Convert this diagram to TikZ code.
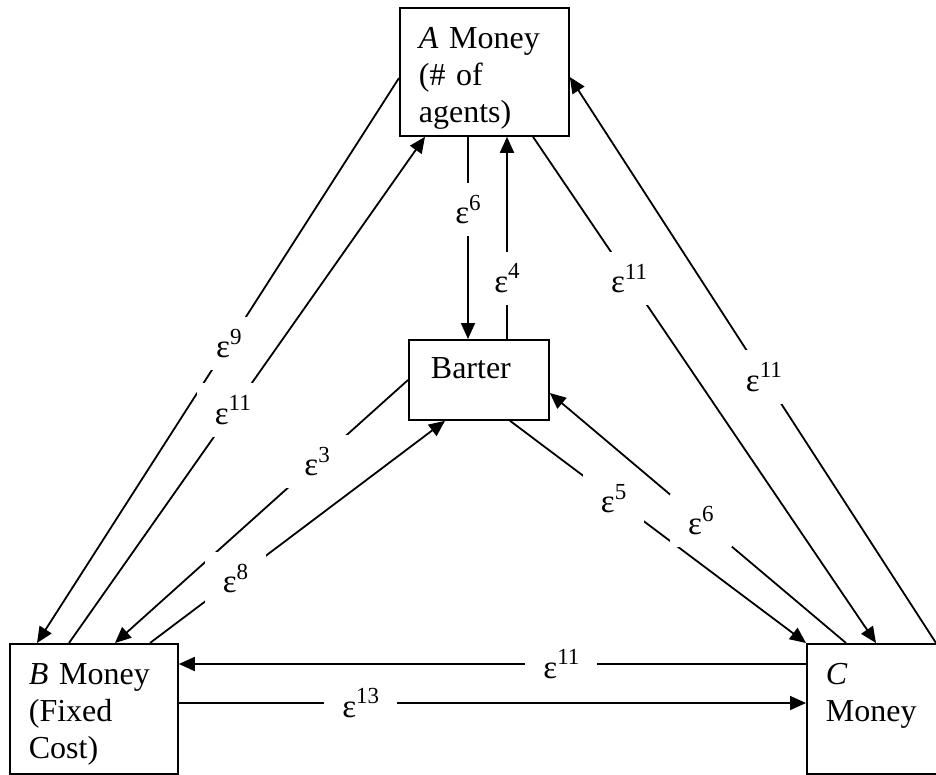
\documentclass[tikz,border=0pt]{standalone}
\usepackage{fontspec}
\setmainfont{Liberation Serif}
\usetikzlibrary{arrows.meta,calc}
\newcommand{\epsl}[1]{ε\raisebox{.42em}{\fontsize{11.5}{11.5}\selectfont#1}}
\begin{document}
\begin{tikzpicture}[x=0.5pt,y=-0.5pt,
    box/.style={draw,line width=0.9pt,anchor=north west,align=left,inner xsep=9.5pt,
      inner ysep=0pt,text height=20.5pt,font=\fontsize{16}{18.5}\selectfont},
    arr/.style={line width=0.9pt,-{Triangle[length=8pt,width=7pt]}},
    lbl/.style={fill=white,inner xsep=9pt,inner ysep=6pt,font=\fontsize{16.5}{18}\selectfont}]
  \clip (0,0) rectangle (936,775);
  % boxes
  \node[box,text width=65.5pt,text depth=43.5pt] (A) at (399,7) {\textit{A} Money\\(\# of\\agents)};
  \node[box,inner xsep=11pt,text width=48pt,text height=19.5pt,text depth=20.5pt] (bar) at (408,339) {Barter};
  \node[box,text width=65pt,text depth=44.5pt] (B) at (9,643) {\textit{B} Money\\(Fixed\\Cost)};
  \node[box,text width=61pt,text depth=44.5pt] (C) at (806,643) {\textit{C}\\Money};
  % A and B
  \draw[arr] ($(A.north west)+(0,71)$) -- node[lbl,pos=.47] {\epsl{9}} ($(B.north west)+(28,0)$);
  \draw[arr] ($(B.north west)+(60,0)$) -- node[lbl,pos=.46] {\epsl{11}} ($(A.south west)+(26,0)$);
  % A and Barter
  \draw[arr] ($(A.south west)+(69,0)$) -- node[lbl,pos=.36] {\epsl{6}} ($(bar.north west)+(60,0)$);
  \draw[arr] ($(bar.north west)+(99,0)$) -- node[lbl,pos=.30] {\epsl{4}} ($(A.south west)+(108,0)$);
  % A and C
  \draw[arr] ($(A.south west)+(134,0)$) -- node[lbl,pos=.28] {\epsl{11}} ($(C.north west)+(70,0)$);
  \draw[arr] ($(C.north west)+(130,0)$) -- node[lbl,pos=.47] {\epsl{11}} ($(A.north east)+(0,70)$);
  % Barter and B
  \draw[arr] ($(bar.north west)+(0,41)$) -- node[lbl,pos=.31] {\epsl{3}} ($(B.north west)+(106,0)$);
  \draw[arr] ($(B.north west)+(141,0)$) -- node[lbl,pos=.29] {\epsl{8}} ($(bar.south west)+(37,0)$);
  % Barter and C
  \draw[arr] ($(bar.south west)+(102,0)$) -- node[lbl,pos=.35] {\epsl{5}} (C.north west);
  \draw[arr] ($(C.north west)+(40,0)$) -- node[lbl,pos=.49] {\epsl{6}} ($(bar.north east)+(0,54)$);
  % B and C
  \draw[arr] ($(C.north west)+(0,21)$) -- node[lbl,pos=.39] {\epsl{11}} ($(B.north east)+(0,21)$);
  \draw[arr] ($(B.north east)+(0,60)$) -- node[lbl,pos=.29] {\epsl{13}} ($(C.north west)+(0,60)$);
\end{tikzpicture}
\end{document}
